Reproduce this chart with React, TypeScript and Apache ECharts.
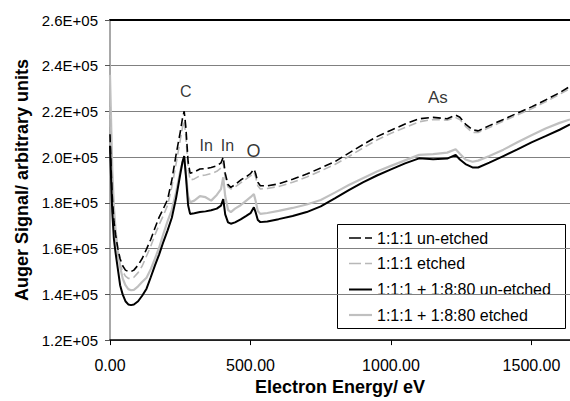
import React, { useEffect, useRef } from "react";
import * as echarts from "echarts";

const seriesNames = [
  "1:1:1 un-etched",
  "1:1:1 etched",
  "1:1:1 + 1:8:80 un-etched",
  "1:1:1 + 1:8:80 etched",
];

const energies = [
  0, 4, 8, 14, 20, 28, 36, 45, 55, 65, 75, 85, 100, 115, 130, 145, 160, 175, 190, 205, 220, 235, 250, 258, 264, 270, 278, 285,
  300, 320, 340, 360, 380, 395, 403, 410, 420, 430, 445, 465, 485, 500, 512, 518, 526, 535, 560, 600, 650, 700, 750, 800, 850,
  900, 950, 1000, 1050, 1100, 1150, 1200, 1230, 1245, 1265, 1290, 1310, 1350, 1400, 1450, 1500, 1550, 1600, 1637,
];

// values in thousands
const unetched111 = [
  210, 195, 183, 172, 166, 160, 155.6, 152.5, 150.6, 150, 150, 150.6, 152.8, 155.8, 159.8, 164, 169, 173.8, 177.5, 181.5, 190, 201,
  211, 217, 220.1, 213, 198, 193, 193.5, 194.8, 195, 195.5, 196.2, 197.5, 200, 193, 188, 186.8, 188, 190, 191.5, 192.8, 194.8, 193,
  189, 187.5, 187.5, 188.3, 190.3, 192.6, 195.3, 198, 201.8, 205.5, 209, 211.8, 214.5, 216.8, 217.4, 216.8, 218.4, 217.5, 214.5,
  212, 211.5, 213.8, 216.5, 219.3, 222, 225, 228.2, 231,
];

const etched111 = [
  222, 200, 185, 172, 164, 157, 153, 150, 148, 147, 147, 147.5, 149.5, 152.5, 156.8, 161, 166, 170.5, 174.5, 179, 187, 197, 207.5,
  213, 216, 209, 195, 190, 190.5, 191.9, 192.2, 192.8, 193.8, 195.3, 197.7, 191, 187, 186.1, 187, 188.8, 190.5, 191.8, 193.4, 191.5,
  187.5, 186.1, 186.3, 187.2, 189, 191.3, 194, 196.8, 200.3, 204, 207.5, 210.5, 213, 215.5, 216.5, 216.2, 217.3, 216.5, 213.5,
  210.8, 210.8, 213, 215.8, 218.5, 221.2, 224.2, 227.5, 230,
];

const unetchedMix = [
  205, 190, 176, 164, 158, 151, 144, 140, 137, 135.6, 135.3, 135.6, 137, 139.5, 142.5, 147.5, 152.7, 157.5, 163, 168, 173.5, 182,
  192.5, 198, 200.5, 192, 179, 175.2, 175.5, 176, 176.3, 176.8, 177.5, 178.8, 181.7, 175, 171.5, 170.9, 171.5, 172.8, 174.3, 175.5,
  178.1, 176, 172.5, 171.6, 171.9, 172.9, 174.3, 176, 178.5, 182, 185.6, 189, 192, 194.7, 197.3, 199.5, 199.1, 199.4, 201, 199, 197,
  195.5, 195.5, 197.6, 200.5, 203.4, 206.5, 209.2, 212, 214.3,
];

const etchedMix = [
  236, 215, 195, 178, 168, 159, 152, 147, 144, 142.3, 141.8, 142, 143.5, 145.5, 147.3, 151, 155.6, 160.5, 166.5, 172, 177, 184.5,
  194, 197.5, 199.5, 193, 183, 180.3, 181, 183, 182.5, 181, 183.5, 186, 191.2, 183, 177, 176, 177.5, 179, 181, 182.5, 183.9, 181,
  176.5, 175.2, 175.6, 176.5, 177.8, 179.3, 181.3, 184.5, 187.8, 190.8, 193.7, 196.2, 198.6, 201, 201.3, 202, 203.5, 201.5, 199, 198,
  198.5, 200.5, 203.3, 206.5, 209.6, 212.5, 215, 216.5,
];

const peakLabels = ["C", "In", "In", "O", "As"];
const peakEnergies = [270, 342, 418, 511, 1167];
const peakValues = [228.7, 205.2, 205.2, 202.8, 226];
const peakSizes = [16, 16, 16, 18, 17];

const xTicks = [0, 500, 1000, 1500];
const yMin = 120000;
const yMax = 260000;
const yStep = 20000;
const xMax = 1637;

const seriesColors = ["#000000", "#b8b8b8", "#000000", "#c0c0c0"];
const seriesWidths = [1.6, 1.6, 2, 2.2];
const seriesDashed = [true, true, false, false];

const FONT = "'Liberation Sans', Arial, sans-serif";

function pairs(vals: number[]) {
  return energies.map((e, i) => [e, vals[i] * 1000]);
}

function buildLegend() {
  const boxX = 337;
  const boxY = 224;
  const rowY = [238, 263.5, 289.5, 315];
  const children: any[] = [
    {
      type: "rect",
      shape: { x: boxX + 0.5, y: boxY + 0.5, width: 228, height: 104 },
      style: { fill: "#ffffff", stroke: "#000000", lineWidth: 1 },
    },
  ];
  seriesNames.forEach((n, i) => {
    children.push({
      type: "line",
      shape: { x1: 349, y1: rowY[i], x2: 372, y2: rowY[i] },
      style: {
        stroke: seriesColors[i],
        lineWidth: seriesWidths[i],
        lineDash: seriesDashed[i] ? [12, 4] : null,
      },
    });
    children.push({
      type: "text",
      x: 377,
      y: rowY[i],
      style: {
        text: n,
        fill: "#000",
        font: `16px ${FONT}`,
        textVerticalAlign: "middle",
        verticalAlign: "middle",
      },
    });
  });
  return [{ type: "group", z: 100, children }];
}

export default function App() {
  const ref = useRef<HTMLDivElement>(null);
  useEffect(() => {
    if (!ref.current) return;
    const chart = echarts.init(ref.current, undefined, { renderer: "svg" });
    const lineCommon = { type: "line", symbol: "none", smooth: false, silent: true };
    const lineSeries = [3, 1, 2, 0].map((idx) => ({
      ...lineCommon,
      name: seriesNames[idx],
      data: pairs([unetched111, etched111, unetchedMix, etchedMix][idx]),
      lineStyle: {
        color: seriesColors[idx],
        width: seriesWidths[idx],
        type: seriesDashed[idx] ? [8, 4] : "solid",
      },
      itemStyle: { color: seriesColors[idx] },
    }));
    chart.setOption({
      animation: false,
      backgroundColor: "#ffffff",
      textStyle: { fontFamily: FONT },
      grid: { left: 110, right: 0, top: 20, bottom: 59 },
      xAxis: [
        {
          type: "value",
          min: 0,
          max: xMax,
          interval: 500,
          position: "bottom",
          name: "Electron Energy/ eV",
          nameLocation: "middle",
          nameGap: 36,
          nameTextStyle: { fontSize: 18, fontWeight: "bold", color: "#000", fontFamily: FONT },
          axisLine: { show: true, onZero: false, lineStyle: { color: "#000", width: 1.5 } },
          axisTick: { show: true, length: 5, lineStyle: { color: "#000" } },
          axisLabel: {
            fontSize: 16,
            color: "#000",
            margin: 17,
            showMaxLabel: false,
            formatter: (v: number) => (xTicks.includes(v) ? v.toFixed(2) : ""),
          },
          splitLine: { show: false },
        },
        {
          type: "value",
          min: 0,
          max: xMax,
          position: "top",
          axisLine: { show: true, onZero: false, lineStyle: { color: "#000", width: 1.8 } },
          axisTick: { show: false },
          axisLabel: { show: false },
          splitLine: { show: false },
        },
      ],
      yAxis: {
        type: "value",
        min: yMin,
        max: yMax,
        interval: yStep,
        name: "Auger Signal/ arbitrary units",
        nameLocation: "middle",
        nameGap: 78,
        nameTextStyle: { fontSize: 18, fontWeight: "bold", color: "#000", fontFamily: FONT },
        axisLine: { show: true, onZero: false, lineStyle: { color: "#a8a8a8", width: 2 } },
        axisTick: { show: true, length: 5, lineStyle: { color: "#555" } },
        axisLabel: {
          fontSize: 15,
          color: "#000",
          margin: 12,
          formatter: (v: number) => (v / 100000).toFixed(1) + "E+05",
        },
        splitLine: { show: true, lineStyle: { color: "#808080", width: 1 } },
      },
      graphic: buildLegend(),
      series: [
        ...lineSeries,
        {
          type: "scatter",
          name: "peaks",
          silent: true,
          symbol: "circle",
          symbolSize: 1,
          itemStyle: { color: "rgba(0,0,0,0)" },
          data: peakLabels.map((n, i) => ({
            name: n,
            value: [peakEnergies[i], peakValues[i] * 1000],
            label: { fontSize: peakSizes[i] },
          })),
          label: {
            show: true,
            position: "inside",
            formatter: "{b}",
            color: "#000",
            fontFamily: FONT,
            fontSize: 16,
          },
        },
      ],
    });
    return () => chart.dispose();
  }, []);
  return (
    <div
      ref={ref}
      style={{ position: "fixed", left: 0, top: 0, width: 570, height: 401, background: "#fff" }}
    />
  );
}
